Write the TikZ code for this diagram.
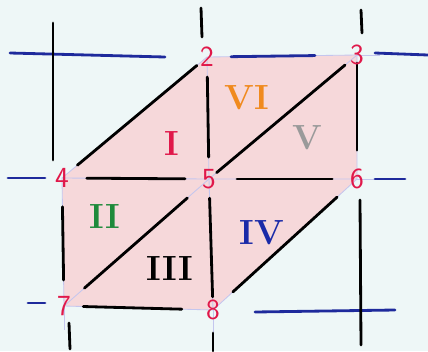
\documentclass[tikz,border=0pt]{standalone}
\usepackage{tikz}
\definecolor{paper}{HTML}{EEF7F7}
\definecolor{pinkfill}{HTML}{F6D8DA}
\definecolor{mesh}{HTML}{C4C6EE}
\definecolor{ink}{HTML}{1E2A9C}
\definecolor{numred}{HTML}{E0184A}
\definecolor{grn}{HTML}{1E8A3A}
\definecolor{org}{HTML}{F08A1E}
\definecolor{gry}{HTML}{9A9A9A}
\definecolor{blu}{HTML}{1A2AA8}

\begin{document}
\begin{tikzpicture}[x=0.025cm, y=-0.025cm,
        pt/.style={inner sep=0pt, text=numred, font=\huge\sffamily},
        roman/.style={inner sep=0pt, font=\Huge\bfseries},
        light/.style={draw=mesh, line width=0.6pt},
        pen/.style={draw=black, line width=2pt, line cap=round},
        bluepen/.style={draw=ink, line width=2pt, line cap=round}
    ]
        % Paper
        \fill[paper] (0,0) rectangle (428,351);
        \useasboundingbox (0,0) rectangle (428,351);

        % Mesh points
        \coordinate (p2) at (207,57);
        \coordinate (p3) at (357,55);
        \coordinate (p4) at (62,178);
        \coordinate (p5) at (209,179);
        \coordinate (p6) at (357,179);
        \coordinate (p7) at (64,306);
        \coordinate (p8) at (213,310);

        % Shaded region
        \fill[pinkfill] (p2) -- (p3) -- (p6) -- (p8) -- (p7) -- (p4) -- cycle;

        % Mesh lines
        \draw[light] (p2) -- (p3) -- (p6) -- (p8) -- (p7) -- (p4) -- cycle;
        \draw[light] (p4) -- (p5) -- (p6);
        \draw[light] (p2) -- (p5) -- (p8);
        \draw[light] (p7) -- (p5) -- (p3);
        \draw[light] (p6) -- (380,179);
        \draw[light] (p3) -- (380,55);
        \draw[light] (p7) -- (p7 |- 0,330);
        \draw[light] (p8) -- (p8 |- 0,335);

        % Grid lines outside
        \draw[bluepen] (10,53) -- (165,57);
        \draw[bluepen] (375,53) -- (428,55);
        \draw[bluepen] (8,178) -- (45,178);
        \draw[bluepen] (375,179) -- (405,179);
        \draw[bluepen] (28,303) -- (45,303);
        \draw[bluepen] (255,312) -- (395,310);
        \draw[pen] (53,23) -- (53,160);
        \draw[pen] (201,8) -- (202,37);
        \draw[pen] (361,10) -- (362,33);
        \draw[pen] (360,200) -- (361,345);
        \draw[pen] (69,323) -- (70,349);
        \draw[pen] (213,333) -- (213,351);

        % Element edges
        \draw[pen, shorten <=0.50cm, shorten >=0.33cm] (p4) -- (p2);
        \draw[pen, shorten <=0.25cm, shorten >=0.39cm] (p5) -- (p3);
        \draw[pen, shorten <=0.68cm, shorten >=0.72cm] (p7) -- (p5);
        \draw[pen, shorten <=0.67cm, shorten >=0.67cm] (p8) -- (p6);
        \draw[pen, shorten <=0.50cm, shorten >=0.55cm] (p2) -- (p5);
        \draw[pen, shorten <=0.20cm, shorten >=0.72cm] (p3) -- (p6);
        \draw[pen, shorten <=0.62cm, shorten >=0.60cm] (p4) -- (p5);
        \draw[pen, shorten <=0.70cm, shorten >=0.62cm] (p5) -- (p6);
        \draw[pen, shorten <=0.72cm, shorten >=0.65cm] (p4) -- (p7);
        \draw[pen, shorten <=0.48cm, shorten >=0.33cm] (p5) -- (p8);
        \draw[pen, shorten <=0.48cm, shorten >=0.78cm] (p7) -- (p8);
        \draw[bluepen, shorten <=0.60cm, shorten >=1.05cm] (p2) -- (p3);

        % Point numbers
        \node[pt] (n2) at (p2) {2};
        \node[pt] (n3) at (p3) {3};
        \node[pt] (n4) at (p4) {4};
        \node[pt] (n5) at (p5) {5};
        \node[pt] (n6) at (p6) {6};
        \node[pt] (n7) at (p7) {7};
        \node[pt] (n8) at (p8) {8};

        % Element numbers
        \node[roman, text=numred] (e1) at (172,143) {I};
        \node[roman, text=grn] (e2) at (105,216) {II};
        \node[roman, text=black] (e3) at (170,268) {III};
        \node[roman, text=blu] (e4) at (262,233) {IV};
        \node[roman, text=gry] (e5) at (307,138) {V};
        \node[roman, text=org] (e6) at (247,98) {VI};

    \end{tikzpicture}
\end{document}
